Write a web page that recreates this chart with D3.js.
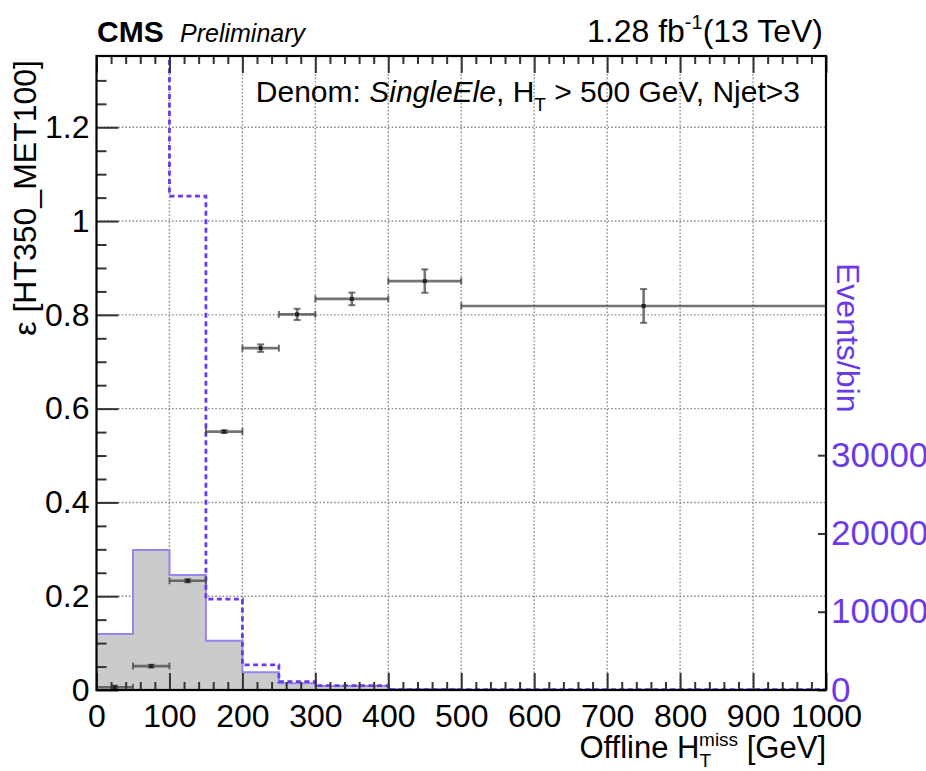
<!DOCTYPE html>
<html>
<head>
<meta charset="utf-8">
<script src="https://cdn.jsdelivr.net/npm/d3@7"></script>
<style>
  body { margin: 0; background: #fff; }
  text { font-family: "Liberation Sans", Arial, Helvetica, sans-serif; }
</style>
</head>
<body>
<div id="chart"></div>
<script>
// bin edges in GeV (offline HT miss)
let binEdges = [0, 50, 100, 150, 200, 250, 300, 400, 500, 1000]

// trigger efficiency per bin and its error
let effValues = [0.006, 0.051, 0.233, 0.551, 0.729, 0.801, 0.834, 0.872, 0.819]
let effErrors = [0.003, 0.003, 0.003, 0.003, 0.008, 0.012, 0.0135, 0.025, 0.036]

// events per bin (right axis): denominator (filled) and dashed histogram
let denomEvents = [7150, 17900, 14700, 6300, 2260, 860, 500, 100, 40]
let dashedEvents = [95000, 120000, 63100, 11600, 3200, 1060, 560, 60, 30]

let xTicks = [0, 100, 200, 300, 400, 500, 600, 700, 800, 900, 1000]
let yTicks = [0, 0.2, 0.4, 0.6, 0.8, 1, 1.2]
let y2Ticks = [0, 10000, 20000, 30000]

let width = 926, height = 771
let plot = { left: 96.5, right: 826, top: 56, bottom: 690 }
let purple = '#6a3ae8'
let lightPurple = '#9585f2'

let svg = d3.select('#chart')
            .append('svg')
            .attr('width', width)
            .attr('height', height)

let x = d3.scaleLinear().domain([0, 1000]).range([plot.left, plot.right])
let y = d3.scaleLinear().domain([0, 1.352]).range([plot.bottom, plot.top])
let y2 = d3.scaleLinear().domain([0, 81000]).range([plot.bottom, plot.top])

svg.append('clipPath')
   .attr('id', 'plotclip')
   .append('rect')
   .attr('x', plot.left)
   .attr('y', plot.top)
   .attr('width', plot.right - plot.left)
   .attr('height', plot.bottom - plot.top)

//grid lines (dotted)
let grid = svg.append('g')
grid.selectAll('.vgrid')
    .data(xTicks.slice(1, -1))
    .enter()
    .append('line')
    .attr('x1', d => x(d)).attr('x2', d => x(d))
    .attr('y1', plot.top).attr('y2', plot.bottom)
    .style('stroke', '#8a8a8a')
    .style('stroke-width', 1.4)
    .style('stroke-dasharray', '1.6,2')
grid.selectAll('.hgrid')
    .data(yTicks.slice(1))
    .enter()
    .append('line')
    .attr('x1', plot.left).attr('x2', plot.right)
    .attr('y1', d => y(d)).attr('y2', d => y(d))
    .style('stroke', '#8a8a8a')
    .style('stroke-width', 1.4)
    .style('stroke-dasharray', '1.6,2')

// step histograms
function stepPoints(values) {
  let pts = values.map((v, i) => [binEdges[i], v])
  pts.push([binEdges[binEdges.length - 1], values[values.length - 1]])
  return pts
}

let hists = svg.append('g').attr('clip-path', 'url(#plotclip)')

let area = d3.area()
             .curve(d3.curveStepAfter)
             .x(d => x(d[0]))
             .y0(y2(0))
             .y1(d => y2(d[1]))
let stepLine = d3.line()
                 .curve(d3.curveStepAfter)
                 .x(d => x(d[0]))
                 .y(d => y2(d[1]))

hists.append('path')
     .attr('d', area(stepPoints(denomEvents)))
     .style('fill', '#cbcbcb')
hists.append('path')
     .attr('d', stepLine(stepPoints(denomEvents)))
     .style('fill', 'none')
     .style('stroke', lightPurple)
     .style('stroke-width', 2)
hists.append('path')
     .attr('d', stepLine(stepPoints(dashedEvents)))
     .style('fill', 'none')
     .style('stroke', purple)
     .style('stroke-width', 2.8)
     .style('stroke-dasharray', '5,3.5')

// efficiency points with error bars
let effData = effValues.map((v, i) => ({
  lo: binEdges[i], hi: binEdges[i + 1], v: v, err: effErrors[i]
}))
let pts = svg.append('g').attr('clip-path', 'url(#plotclip)')
let pg = pts.selectAll('g')
            .data(effData)
            .enter()
            .append('g')
let errColor = 'rgba(70,70,70,0.75)'
pg.append('line')
  .attr('x1', d => x(d.lo)).attr('x2', d => x(d.hi))
  .attr('y1', d => y(d.v)).attr('y2', d => y(d.v))
  .style('stroke', errColor).style('stroke-width', 2.6)
pg.append('line')
  .attr('x1', d => x((d.lo + d.hi) / 2)).attr('x2', d => x((d.lo + d.hi) / 2))
  .attr('y1', d => y(d.v - d.err)).attr('y2', d => y(d.v + d.err))
  .style('stroke', errColor).style('stroke-width', 2.6)
// end caps
pg.selectAll('.hcap')
  .data(d => [[d, d.v - d.err], [d, d.v + d.err]])
  .enter()
  .append('line')
  .attr('x1', d => x((d[0].lo + d[0].hi) / 2) - 3.5)
  .attr('x2', d => x((d[0].lo + d[0].hi) / 2) + 3.5)
  .attr('y1', d => y(d[1])).attr('y2', d => y(d[1]))
  .style('stroke', errColor).style('stroke-width', 2)
pg.selectAll('.vcap')
  .data(d => [[d.lo, d.v], [d.hi, d.v]])
  .enter()
  .append('line')
  .attr('x1', d => x(d[0])).attr('x2', d => x(d[0]))
  .attr('y1', d => y(d[1]) - 3.5).attr('y2', d => y(d[1]) + 3.5)
  .style('stroke', errColor).style('stroke-width', 2)
pg.append('rect')
  .attr('x', d => x((d.lo + d.hi) / 2) - 2)
  .attr('y', d => y(d.v) - 2)
  .attr('width', 4).attr('height', 4)
  .style('fill', '#222')

//axes
function styleAxis(g, tickColor) {
  g.select('.domain').remove()
  g.selectAll('.tick line').style('stroke', tickColor || '#333').style('stroke-width', 2)
  g.selectAll('text')
   .style('font-family', '"Liberation Sans", Arial, sans-serif')
   .style('font-size', '32px')
   .style('fill', '#000')
}

let minorX = d3.range(0, 1001, 20).filter(d => d % 100 !== 0)
let minorY = d3.range(0, 27).map(d => d * 0.05).filter(d => Math.round(d * 100) % 20 !== 0)

svg.append('g')
   .attr('transform', 'translate(0,' + plot.bottom + ')')
   .call(d3.axisBottom(x).tickValues(xTicks).tickSize(-17).tickPadding(14).tickFormat(d3.format('d')))
   .call(g => styleAxis(g))
svg.append('g')
   .attr('transform', 'translate(0,' + plot.bottom + ')')
   .call(d3.axisBottom(x).tickValues(minorX).tickSize(-8).tickFormat(''))
   .call(g => styleAxis(g))
svg.append('g')
   .attr('transform', 'translate(0,' + plot.top + ')')
   .call(d3.axisTop(x).tickValues(xTicks).tickSize(-17).tickFormat(''))
   .call(g => styleAxis(g))
svg.append('g')
   .attr('transform', 'translate(0,' + plot.top + ')')
   .call(d3.axisTop(x).tickValues(minorX).tickSize(-8).tickFormat(''))
   .call(g => styleAxis(g))

svg.append('g')
   .attr('transform', 'translate(' + plot.left + ',0)')
   .call(d3.axisLeft(y).tickValues(yTicks).tickSize(-22).tickPadding(7).tickFormat(d3.format('~g')))
   .call(g => styleAxis(g))
svg.append('g')
   .attr('transform', 'translate(' + plot.left + ',0)')
   .call(d3.axisLeft(y).tickValues(minorY).tickSize(-10).tickFormat(''))
   .call(g => styleAxis(g))

let rightAxis = svg.append('g')
   .attr('transform', 'translate(' + plot.right + ',0)')
   .call(d3.axisRight(y2).tickValues(y2Ticks).tickSize(-8).tickPadding(5).tickFormat(d3.format('d')))
   .call(g => styleAxis(g))
rightAxis.selectAll('text').style('fill', purple).style('font-size', '35px')

// frame
svg.append('rect')
   .attr('x', plot.left)
   .attr('y', plot.top)
   .attr('width', plot.right - plot.left)
   .attr('height', plot.bottom - plot.top)
   .style('fill', 'none')
   .style('stroke', '#000')
   .style('stroke-width', 2.2)

// axis titles
svg.append('text')
   .attr('transform', 'translate(36,60) rotate(-90)')
   .attr('text-anchor', 'end')
   .style('font-size', '32px')
   .text('ε [HT350_MET100]')

svg.append('text')
   .attr('transform', 'translate(837,263) rotate(90)')
   .attr('text-anchor', 'start')
   .style('font-size', '32px')
   .style('fill', purple)
   .text('Events/bin')

let xt = svg.append('text')
            .attr('x', plot.right)
            .attr('y', 758)
            .attr('text-anchor', 'end')
            .style('font-size', '31px')
xt.append('tspan').text('Offline H')
xt.append('tspan').attr('dy', 9).style('font-size', '19px').text('T')
xt.append('tspan').attr('dx', -12).attr('dy', -21).style('font-size', '19px').text('miss')
xt.append('tspan').attr('dy', 12).text(' [GeV]')

// header
svg.append('text')
   .attr('x', 97).attr('y', 42)
   .style('font-size', '30px')
   .style('font-weight', 'bold')
   .text('CMS')
svg.append('text')
   .attr('x', 180).attr('y', 42)
   .style('font-size', '25px')
   .style('font-style', 'italic')
   .text('Preliminary')

let lumi = svg.append('text')
              .attr('x', 823).attr('y', 42)
              .attr('text-anchor', 'end')
              .style('font-size', '32px')
lumi.append('tspan').text('1.28 fb')
lumi.append('tspan').attr('dy', -13).style('font-size', '20px').text('-1')
lumi.append('tspan').attr('dy', 13).text('(13 TeV)')

let leg = svg.append('text')
             .attr('x', 800).attr('y', 102)
             .attr('text-anchor', 'end')
             .style('font-size', '30px')
leg.append('tspan').text('Denom: ')
leg.append('tspan').style('font-style', 'italic').text('SingleEle')
leg.append('tspan').text(', H')
leg.append('tspan').attr('dy', 9).style('font-size', '19px').text('T')
leg.append('tspan').attr('dy', -9).text(' > 500 GeV, Njet>3')
</script>
</body>
</html>
